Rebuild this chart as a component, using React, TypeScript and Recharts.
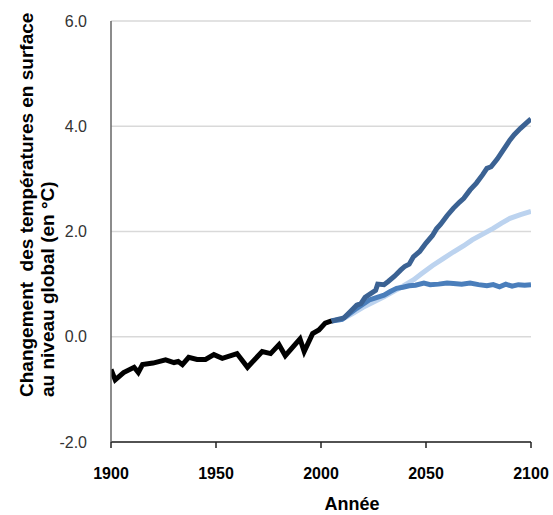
import { CartesianGrid, Label, Line, LineChart, XAxis, YAxis } from "recharts";

// Observed global mean temperature change, 1900–2005 (°C)
const observed: [number, number][] = [
  [1900, -0.62], [1902, -0.82], [1906, -0.68], [1911, -0.58], [1913, -0.68],
  [1915, -0.53], [1920, -0.5], [1926, -0.44], [1930, -0.49], [1932, -0.47],
  [1934, -0.53], [1937, -0.39], [1941, -0.43], [1945, -0.43], [1949, -0.34],
  [1953, -0.41], [1960, -0.32], [1965, -0.58], [1972, -0.28], [1976, -0.32],
  [1980, -0.15], [1983, -0.36], [1990, -0.04], [1992, -0.28], [1996, 0.06],
  [1999, 0.13], [2002, 0.26], [2005, 0.3],
];

// High-emission projection (dark blue)
const high: [number, number][] = [
  [2005, 0.3], [2008, 0.33], [2011, 0.36], [2014, 0.48], [2017, 0.6],
  [2019, 0.63], [2021, 0.75], [2024, 0.83], [2026, 0.88], [2027, 1.0],
  [2030, 0.99], [2032, 1.05], [2035, 1.15], [2038, 1.27], [2040, 1.34],
  [2042, 1.38], [2044, 1.52], [2047, 1.62], [2050, 1.78], [2053, 1.92],
  [2055, 2.05], [2057, 2.14], [2060, 2.3], [2063, 2.44], [2066, 2.56],
  [2068, 2.63], [2071, 2.79], [2074, 2.92], [2077, 3.08], [2079, 3.2],
  [2081, 3.23], [2084, 3.38], [2087, 3.56], [2090, 3.74], [2092, 3.84],
  [2095, 3.96], [2098, 4.07], [2100, 4.14],
];

// Intermediate projection (light blue)
const mid: [number, number][] = [
  [2005, 0.3], [2010, 0.33], [2015, 0.44], [2020, 0.56], [2025, 0.66],
  [2030, 0.76], [2034, 0.85], [2039, 0.96], [2044, 1.08], [2048, 1.2],
  [2053, 1.35], [2058, 1.48], [2063, 1.61], [2068, 1.73], [2072, 1.84],
  [2077, 1.95], [2082, 2.06], [2086, 2.16], [2090, 2.25], [2095, 2.32],
  [2100, 2.38],
];

// Low-emission projection (medium blue), levels off near 1 °C
const low: [number, number][] = [
  [2005, 0.3], [2010, 0.33], [2014, 0.45], [2017, 0.54], [2020, 0.62],
  [2023, 0.7], [2026, 0.74], [2030, 0.79], [2033, 0.86], [2036, 0.92],
  [2039, 0.94], [2042, 0.97], [2045, 0.98], [2049, 1.02], [2052, 0.99],
  [2056, 1.0], [2060, 1.02], [2063, 1.01], [2067, 1.0], [2071, 1.02],
  [2075, 0.99], [2079, 0.97], [2082, 0.99], [2085, 0.95], [2088, 1.0],
  [2091, 0.96], [2094, 0.99], [2097, 0.98], [2100, 0.99],
];

const xTicks = [1900, 1950, 2000, 2050, 2100];
const yTicks = [-2, 0, 2, 4, 6];

const COLORS = {
  observed: "#000000",
  high: "#3b6293",
  mid: "#bcd3ef",
  low: "#4a7ebb",
};

const toRows = (pts: [number, number][]) => pts.map(([year, value]) => ({ year, value }));

const FONT = "'Liberation Sans', Arial, sans-serif";

// Two-line rotated title, left-aligned (both lines start at the bottom)
function YTitle() {
  return (
    <g fontFamily={FONT} fontWeight="bold" fontSize={19} fill="#000">
      <text x={33} y={397} transform="rotate(-90 33 397)" textAnchor="start">
        {"Changement\u00a0 des températures en surface"}
      </text>
      <text x={54} y={397} transform="rotate(-90 54 397)" textAnchor="start">
        au niveau global (en °C)
      </text>
    </g>
  );
}

export default function App() {
  return (
    <div style={{ position: "absolute", left: 0, top: 0, background: "#fff" }}>
      <LineChart width={553} height={515} margin={{ top: 21, right: 22, bottom: 0, left: 0 }}>
        <CartesianGrid vertical={false} stroke="#d9d9d9" strokeWidth={1.5} />
        <XAxis
          type="number"
          dataKey="year"
          domain={[1900, 2100]}
          ticks={xTicks}
          height={73}
          stroke="#222"
          strokeWidth={1.5}
          tickSize={6}
          tickMargin={20}
          tick={{ fontSize: 16, fontWeight: "bold", fill: "#000", fontFamily: FONT }}
          allowDataOverflow
        >
          <Label
            value="Année"
            position="insideBottom"
            offset={5}
            dx={31}
            style={{ fontSize: 18, fontWeight: "bold", fill: "#000", fontFamily: FONT }}
          />
        </XAxis>
        <YAxis
          type="number"
          domain={[-2, 6]}
          ticks={yTicks}
          width={111}
          stroke="#666"
          strokeWidth={1.5}
          tickLine={false}
          tickSize={0}
          tickMargin={24}
          tickFormatter={(v: number) => v.toFixed(1)}
          tick={{ fontSize: 16, fill: "#333", fontFamily: FONT }}
        >
          <Label content={<YTitle />} />
        </YAxis>
        <Line data={toRows(mid)} dataKey="value" stroke={COLORS.mid} strokeWidth={5} dot={false} isAnimationActive={false} />
        <Line data={toRows(low)} dataKey="value" stroke={COLORS.low} strokeWidth={5} dot={false} isAnimationActive={false} />
        <Line data={toRows(high)} dataKey="value" stroke={COLORS.high} strokeWidth={5} dot={false} isAnimationActive={false} />
        <Line data={toRows(observed)} dataKey="value" stroke={COLORS.observed} strokeWidth={5} dot={false} isAnimationActive={false} />
      </LineChart>
    </div>
  );
}
